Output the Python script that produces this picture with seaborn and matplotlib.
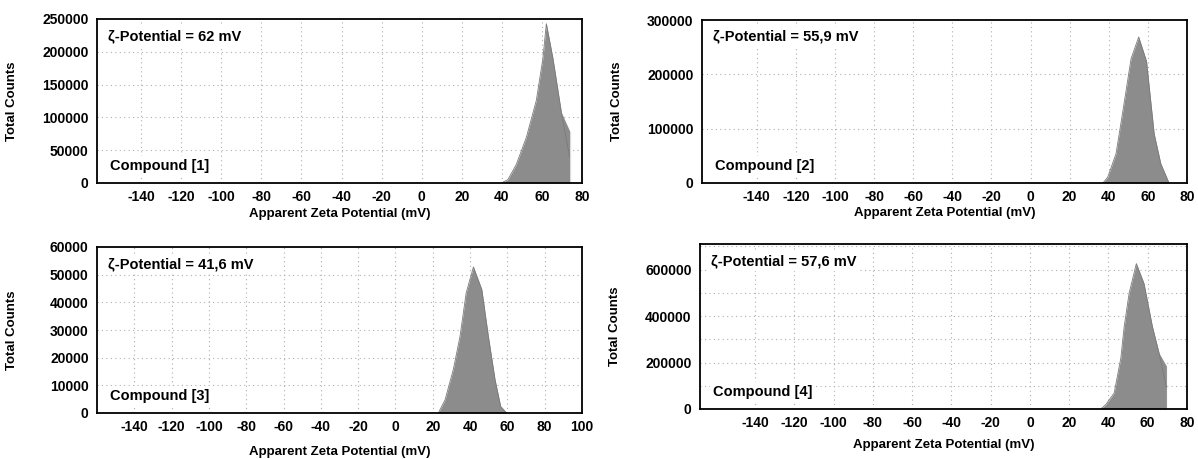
import seaborn as sns
import pandas as pd
import matplotlib.pyplot as plt
from matplotlib.ticker import MultipleLocator
import numpy as np

# ---- data ----
zeta_1 = [39.7, 43.0, 47.2, 52.2, 57.2, 60.5, 62.2, 65.5, 69.7, 73.8, 73.8]
counts_1 = [0, 5100, 28200, 69300, 125800, 190000, 242800, 190000, 107800, 79600, 0]

zeta_2 = [37.0, 39.5, 43.7, 47.0, 51.4, 55.3, 59.3, 63.2, 66.6, 70.8]
counts_2 = [0, 11000, 54000, 127600, 228800, 268700, 224000, 90800, 35600, 0]

zeta_3 = [23.0, 26.6, 31.0, 34.6, 37.9, 41.8, 46.3, 49.8, 53.4, 56.4, 59.6]
counts_3 = [0, 4800, 15700, 27700, 43400, 52800, 44600, 27700, 12000, 2400, 0]

zeta_4 = [36.1, 38.6, 42.9, 46.3, 48.0, 50.5, 54.2, 58.1, 62.4, 65.8, 69.5, 69.5]
counts_4 = [0, 18600, 68600, 218600, 354000, 497000, 625700, 540000, 354000, 240000, 185700, 0]

potentials = ['ζ-Potential = 62 mV', 'ζ-Potential = 55,9 mV', 'ζ-Potential = 41,6 mV', 'ζ-Potential = 57,6 mV']
compounds = ['Compound [1]', 'Compound [2]', 'Compound [3]', 'Compound [4]']

x_lims = [(-162, 80), (-168, 80), (-160, 100), (-168, 80)]
y_lims = [(0, 250000), (0, 300000), (0, 60000), (0, 710000)]
y_major = [50000, 100000, 10000, 200000]
y_grid = [50000, 100000, 10000, 100000]

series = [(zeta_1, counts_1), (zeta_2, counts_2), (zeta_3, counts_3), (zeta_4, counts_4)]

sns.set_theme(style="white")
plt.rcParams['font.family'] = ['Liberation Sans', 'DejaVu Sans']
plt.rcParams['font.weight'] = 'bold'
plt.rcParams['axes.unicode_minus'] = False
plt.rcParams['text.color'] = 'black'
plt.rcParams['axes.labelcolor'] = 'black'
plt.rcParams['xtick.labelcolor'] = 'black'
plt.rcParams['ytick.labelcolor'] = 'black'

W, H = 1198, 459
fig = plt.figure(figsize=(W / 100, H / 100), dpi=100)

# axes boxes in pixels: left, right, top, bottom
boxes = [(97, 582, 19, 183), (702, 1187, 20, 183), (97, 582, 247, 413), (700, 1187, 244, 409)]
xlab_y = [-0.15, -0.15, -0.2, -0.18]

for i, (l, r, t, b) in enumerate(boxes):
    ax = fig.add_axes([l / W, 1 - b / H, (r - l) / W, (b - t) / H])
    zx, zy = series[i]
    df = pd.DataFrame({'zeta': zx, 'counts': zy})

    ax.fill_between(df['zeta'], df['counts'], color='#8c8c8c', lw=0, zorder=3)
    sns.lineplot(data=df, x='zeta', y='counts', color='#7a7a7a', lw=0.6, sort=False, ax=ax, zorder=4)

    ax.set_xlim(*x_lims[i])
    ax.set_ylim(*y_lims[i])
    ax.set_xticks(np.arange(-140, x_lims[i][1] + 1, 20))
    ax.xaxis.set_minor_locator(MultipleLocator(10))
    ax.yaxis.set_major_locator(MultipleLocator(y_major[i]))
    ax.yaxis.set_minor_locator(MultipleLocator(y_major[i] / 2))

    # dotted grid
    for gx in np.arange(-140, x_lims[i][1], 20):
        ax.axvline(gx, color='#b0b0b0', ls=(0, (1, 3)), lw=0.8, zorder=1)
    for gy in np.arange(y_grid[i], y_lims[i][1], y_grid[i]):
        ax.axhline(gy, color='#b0b0b0', ls=(0, (1, 3)), lw=0.8, zorder=1)

    for s in ax.spines.values():
        s.set_color('black')
        s.set_linewidth(1.3)
        s.set_zorder(5)

    ax.tick_params(axis='both', which='major', direction='in', length=4, width=1,
                   color='#444444', labelsize=10, pad=5)
    ax.tick_params(axis='both', which='minor', direction='in', length=2.5, width=0.8,
                   color='#666666')
    ax.tick_params(axis='y', which='major', pad=6)
    for lab in ax.get_xticklabels() + ax.get_yticklabels():
        lab.set_fontweight('bold')

    ax.set_ylabel('Total Counts', fontsize=9.5, fontweight='bold')
    ax.set_xlabel('Apparent Zeta Potential (mV)', fontsize=9.5, fontweight='bold')
    ax.yaxis.set_label_coords(-0.163, 0.5)
    ax.xaxis.set_label_coords(0.5, xlab_y[i])

    box = dict(facecolor='white', edgecolor='none', pad=2)
    ax.text(0.022, 0.94, potentials[i], transform=ax.transAxes, ha='left', va='top',
            fontsize=10.5, fontweight='bold', bbox=box, zorder=6)
    ax.text(0.027, 0.06, compounds[i], transform=ax.transAxes, ha='left', va='bottom',
            fontsize=10.5, fontweight='bold', bbox=box, zorder=6)

    if i == 1:
        ylabs = ax.get_yticklabels()
        ylabs[0].set_color('#999999')
        ylabs[0].set_fontsize(7)
        ylabs[0].set_fontweight('normal')

fig.savefig('out.png', dpi=100)
